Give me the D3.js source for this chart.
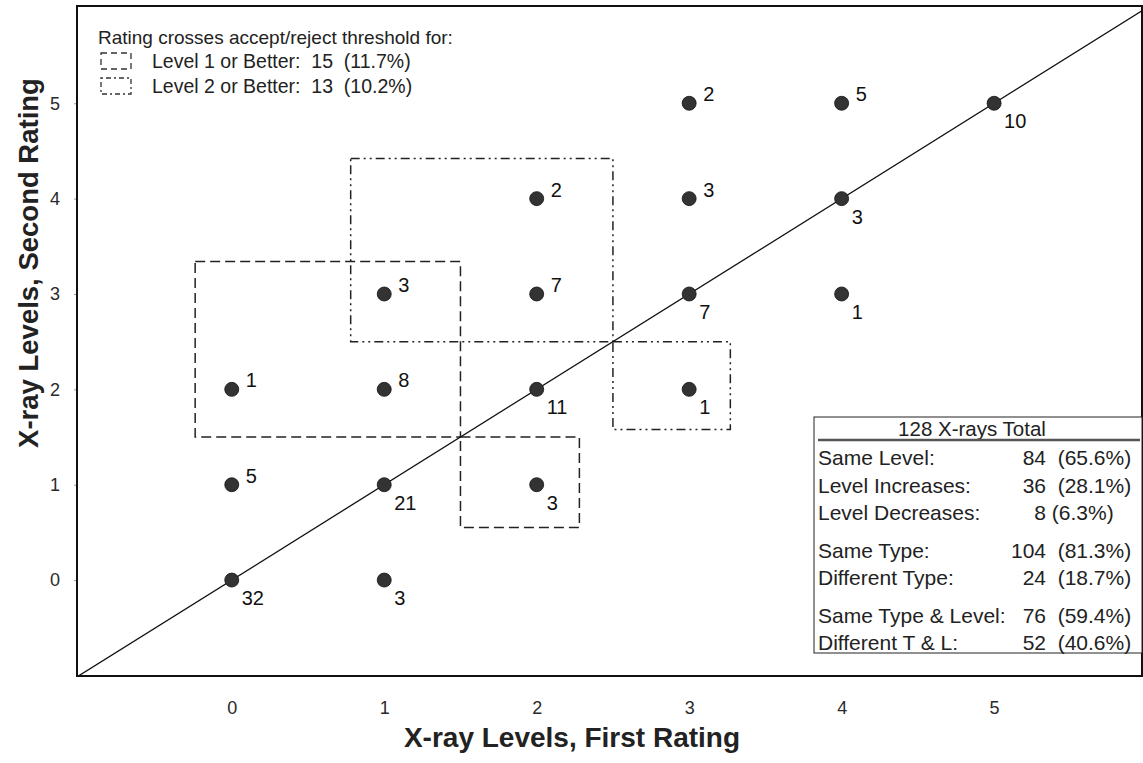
<!DOCTYPE html>
<html>
<head>
<meta charset="utf-8">
<script src="https://cdn.jsdelivr.net/npm/d3@7/dist/d3.min.js"></script>
<style>
  html, body { margin: 0; padding: 0; background: #fff; }
  svg { display: block; }
  text { font-family: Arial, "Liberation Sans", Helvetica, sans-serif; fill: #111; }
</style>
</head>
<body>
<svg id="chart" width="1143" height="763"></svg>
<script>
// ---------- data ----------
const firstRating  = [0, 0, 0, 1, 1, 1, 1, 2, 2, 2, 2, 3, 3, 3, 3, 4, 4, 4, 5];
const secondRating = [2, 1, 0, 3, 2, 1, 0, 4, 3, 2, 1, 5, 4, 3, 2, 5, 4, 3, 5];
const counts       = [1, 5, 32, 3, 8, 21, 3, 2, 7, 11, 3, 2, 3, 7, 1, 5, 3, 1, 10];

const xTicks = [0, 1, 2, 3, 4, 5];
const yTicks = [0, 1, 2, 3, 4, 5];

// threshold boxes: [x0, y0, x1, y1] in rating units
const level1Boxes = [[-0.24, 1.5, 1.5, 3.34], [1.5, 0.55, 2.28, 1.5]];
const level2Boxes = [[0.78, 2.5, 2.5, 4.42], [2.5, 1.58, 3.27, 2.5]];

const legendTitle = "Rating crosses accept/reject threshold for:";
const legendLabels = ["Level 1 or Better:  15  (11.7%)", "Level 2 or Better:  13  (10.2%)"];

const statTitle = "128 X-rays Total";
const statLabels = ["Same Level:", "Level Increases:", "Level Decreases:", "Same Type:", "Different Type:", "Same Type & Level:", "Different T & L:"];
const statCounts = [84, 36, 8, 104, 24, 76, 52];
const statPcts = ["  (65.6%)", "  (28.1%)", " (6.3%)", "  (81.3%)", "  (18.7%)", "  (59.4%)", "  (40.6%)"];
const statGroups = [0, 0, 0, 1, 1, 2, 2];

const xTitle = "X-ray Levels, First Rating";
const yTitle = "X-ray Levels, Second Rating";

// ---------- layout ----------
const svg = d3.select("#chart");
const L = 77, R = 1142, T = 6, B = 676;
const x = d3.scaleLinear().domain([-1.015, 5.97]).range([L, R]);
const y = d3.scaleLinear().domain([-1.006, 6.02]).range([B, T]);

svg.append("rect").attr("width", 1143).attr("height", 763).attr("fill", "#fff");

svg.append("defs").append("clipPath").attr("id", "plotclip")
  .append("rect").attr("x", L).attr("y", T).attr("width", R - L).attr("height", B - T);

// axes
const xAxis = svg.append("g").attr("transform", `translate(0,${B})`)
  .call(d3.axisBottom(x).tickValues(xTicks).tickFormat(d3.format("d")).tickSize(0).tickPadding(25));
xAxis.select(".domain").remove();
xAxis.selectAll("text").attr("font-size", 18).style("fill", "#2a2a2a")
  .attr("font-family", "Arial, 'Liberation Sans', sans-serif");

const yAxis = svg.append("g").attr("transform", `translate(${L},0)`)
  .call(d3.axisLeft(y).tickValues(yTicks).tickFormat(d3.format("d")).tickSize(3).tickPadding(14));
yAxis.select(".domain").remove();
yAxis.selectAll("line").attr("stroke", "#999");
yAxis.selectAll("text").attr("font-size", 18).style("fill", "#2a2a2a")
  .attr("font-family", "Arial, 'Liberation Sans', sans-serif");

// axis titles
svg.append("text").attr("x", 572).attr("y", 747)
  .attr("text-anchor", "middle").attr("font-size", 28).attr("font-weight", "bold")
  .style("fill", "#222").text(xTitle);
svg.append("text").attr("transform", `translate(38,${263}) rotate(-90)`)
  .attr("text-anchor", "middle").attr("font-size", 27.5).attr("font-weight", "bold")
  .style("fill", "#222").text(yTitle);

// threshold boxes
const plot = svg.append("g").attr("clip-path", "url(#plotclip)");
function drawBoxes(boxes, dash) {
  plot.selectAll(null).data(boxes).enter().append("rect")
    .attr("x", d => x(d[0])).attr("y", d => y(d[3]))
    .attr("width", d => x(d[2]) - x(d[0])).attr("height", d => y(d[1]) - y(d[3]))
    .attr("fill", "none").attr("stroke", "#222").attr("stroke-width", 1.5)
    .attr("stroke-dasharray", dash);
}
drawBoxes(level1Boxes, "10,5");
drawBoxes(level2Boxes, "9,4,2,4,2,4");

// diagonal
plot.append("line")
  .attr("x1", x(-1.2)).attr("y1", y(-1.2)).attr("x2", x(6.5)).attr("y2", y(6.5))
  .attr("stroke", "#111").attr("stroke-width", 1.3);

// points
const pts = firstRating.map((f, i) => ({ f, s: secondRating[i], n: counts[i] }));
plot.selectAll("circle.pt").data(pts).enter().append("circle")
  .attr("class", "pt").attr("cx", d => x(d.f)).attr("cy", d => y(d.s)).attr("r", 7)
  .attr("fill", "#333").attr("stroke", "#111").attr("stroke-width", 0.8);
plot.selectAll("text.lbl").data(pts).enter().append("text")
  .attr("class", "lbl")
  .attr("x", d => x(d.f) + (d.s > d.f ? 14 : 10))
  .attr("y", d => y(d.s) + (d.s > d.f ? -9 : 18))
  .attr("dy", "0.35em").attr("font-size", 20).style("fill", "#111")
  .text(d => d.n);

// frame
svg.append("rect").attr("x", L).attr("y", T).attr("width", R - L).attr("height", B - T)
  .attr("fill", "none").attr("stroke", "#111").attr("stroke-width", 2);

// legend (top-left)
svg.append("text").attr("x", 98).attr("y", 37).attr("dy", "0.35em")
  .attr("font-size", 19).style("fill", "#222").text(legendTitle);
const legDash = ["6,4", "2,3,5,3"];
legendLabels.forEach((t, i) => {
  const cy = 61 + i * 25;
  svg.append("rect").attr("x", 101).attr("y", cy - 8).attr("width", 30).attr("height", 16)
    .attr("fill", "none").attr("stroke", "#333").attr("stroke-width", 1.3)
    .attr("stroke-dasharray", legDash[i]);
  svg.append("text").attr("x", 152).attr("y", cy).attr("dy", "0.35em")
    .attr("font-size", 19.5).style("fill", "#222").style("white-space", "pre").text(t);
});

// stats box (bottom-right)
svg.append("rect").attr("x", 814).attr("y", 417).attr("width", 328).attr("height", 236)
  .attr("fill", "#fff").attr("stroke", "#222").attr("stroke-width", 1);
svg.append("text").attr("x", 972).attr("y", 429).attr("dy", "0.35em")
  .attr("text-anchor", "middle").attr("font-size", 20.5).style("fill", "#222").text(statTitle);
svg.append("line").attr("x1", 818).attr("x2", 1140).attr("y1", 440).attr("y2", 440)
  .attr("stroke", "#555").attr("stroke-width", 2.5);
statLabels.forEach((lab, i) => {
  const ry = 458 + i * 27.5 + statGroups[i] * 10;
  svg.append("text").attr("x", 818).attr("y", ry).attr("dy", "0.35em")
    .attr("font-size", 21).style("fill", "#222").text(lab);
  svg.append("text").attr("x", 1046).attr("y", ry).attr("dy", "0.35em")
    .attr("text-anchor", "end").attr("font-size", 21).style("fill", "#222").text(statCounts[i]);
  svg.append("text").attr("x", 1046).attr("y", ry).attr("dy", "0.35em")
    .attr("font-size", 21).style("fill", "#222").style("white-space", "pre").text(statPcts[i]);
});
</script>
</body>
</html>
